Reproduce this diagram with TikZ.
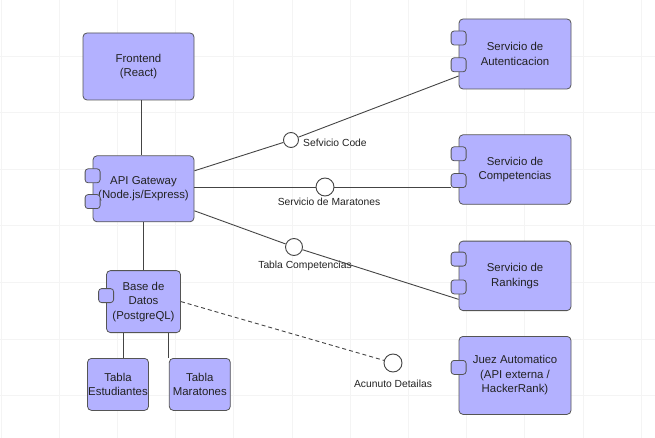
\documentclass[tikz,border=0pt]{standalone}
\usepackage{fontspec}
\setmainfont{Liberation Sans}
\usepackage{tikz}
\usetikzlibrary{positioning}
\definecolor{CompFill}{HTML}{B3B1FF}
\definecolor{CompLine}{HTML}{555555}
\definecolor{WireGray}{HTML}{444444}
\definecolor{GridGray}{HTML}{F4F4F4}
\definecolor{InkGray}{HTML}{222222}

\begin{document}
\begin{tikzpicture}[x=1pt, y=-1pt,
                    comp/.style={draw=CompLine, fill=CompFill, rounded corners=4pt, line width=0.8pt,
                                 align=center, text=InkGray, inner sep=0pt,
                                 font=\fontsize{11.4}{14.5}\selectfont},
                    port/.style={draw=CompLine, fill=CompFill, rounded corners=3pt, line width=0.8pt,
                                 minimum width=15pt, minimum height=14pt, inner sep=0pt},
                    iface/.style={circle, draw=WireGray, fill=white, line width=0.9pt, inner sep=0pt},
                    lbl/.style={text=InkGray, inner sep=1pt, font=\fontsize{10.3}{12}\selectfont},
                    wire/.style={draw=WireGray, line width=0.9pt}]
\useasboundingbox (0,0) rectangle (655,438);
\foreach \gx in {0,...,11} \draw[GridGray, line width=0.6pt] ({0.8+58.2*\gx},0) -- ++(0,438);
\foreach \gy in {1,...,7} \draw[GridGray, line width=0.6pt] (0,{-0.6+56.6*\gy}) -- ++(655,0);
% left column
\node[comp, minimum width=111pt, minimum height=67pt] (front) at (138.5,66.5) {Frontend\\(React)};
\node[comp, minimum width=101pt, minimum height=66pt, below=55pt of front.south east, anchor=north east] (api) {API Gateway\\(Node.js/Express)};
\node[comp, minimum width=74pt, minimum height=62pt, below=48pt of api] (db) {Base de\\Datos\\(PostgreQL)};
\node[comp, minimum width=61pt, minimum height=52pt, below=25pt of db.south, xshift=-25.5pt] (est) {Tabla\\Estudiantes};
\node[comp, minimum width=61pt, minimum height=52pt, right=20pt of est] (mar) {Tabla\\Maratones};
% right column
\node[comp, minimum width=112pt, minimum height=70pt] (aut) at (515,54) {Servicio de\\Autenticacion};
\node[comp, minimum width=112pt, minimum height=69.5pt, below=45pt of aut] (cmp) {Servicio de\\Competencias};
\node[comp, minimum width=112pt, minimum height=69.5pt, below=36pt of cmp] (rank) {Servicio de\\Rankings};
\node[comp, minimum width=112pt, minimum height=78pt, below=25pt of rank] (juez) {Juez Automatico\\(API externa /\\HackerRank)};
% ports
\node[port, below=13pt of api.north west] (api-p1) {};
\node[port, below=11pt of api-p1] (api-p2) {};
\node[port, below=18pt of db.north west] (db-p) {};
\node[port, below=12pt of aut.north west] (aut-p1) {};
\node[port, below=12pt of aut-p1] (aut-p2) {};
\node[port, below=12pt of cmp.north west] (cmp-p1) {};
\node[port, below=12pt of cmp-p1] (cmp-p2) {};
\node[port, below=11pt of rank.north west] (rank-p1) {};
\node[port, below=13pt of rank-p1] (rank-p2) {};
\node[port, below=24pt of juez.north west] (juez-p) {};
% interfaces
\node[iface, minimum size=15pt] (code) at (291,140) {};
\node[iface, minimum size=18pt] (marat) at (325,187) {};
\node[iface, minimum size=17pt] (tcomp) at (294,247) {};
\node[iface, minimum size=18pt] (detail) at (393,363) {};
\node[lbl, right=3pt of code, yshift=-3pt] (code-l) {Sefvicio Code};
\node[lbl, below=0pt of marat, xshift=4pt] (marat-l) {Servicio de Maratones};
\node[lbl, below=4pt of tcomp, xshift=11pt] (tcomp-l) {Tabla Competencias};
\node[lbl, below=6pt of detail] (detail-l) {Acunuto Detailas};
% wires
\draw[wire] ([xshift=2.5pt]front.south) -- ([xshift=-2.5pt]api.north);
\draw[wire] (api) -- (db);
\draw[wire] ([xshift=5.5pt]est.north) -- ([xshift=5.5pt]est.north |- db.south);
\draw[wire] (mar.north west) -- (mar.north west |- db.south);
\draw[wire] ([yshift=18pt]api.east) -- (code) -- ([yshift=-22pt]aut.west);
\draw[wire] (api.east |- marat) -- (marat) -- (marat -| cmp-p2.west);
\draw[wire] ([yshift=-22pt]api.east) -- (tcomp) -- ([yshift=-23.5pt]rank.west);
\draw[wire, dash pattern=on 4pt off 3pt] (db.east) -- (detail);
\end{tikzpicture}
\end{document}
